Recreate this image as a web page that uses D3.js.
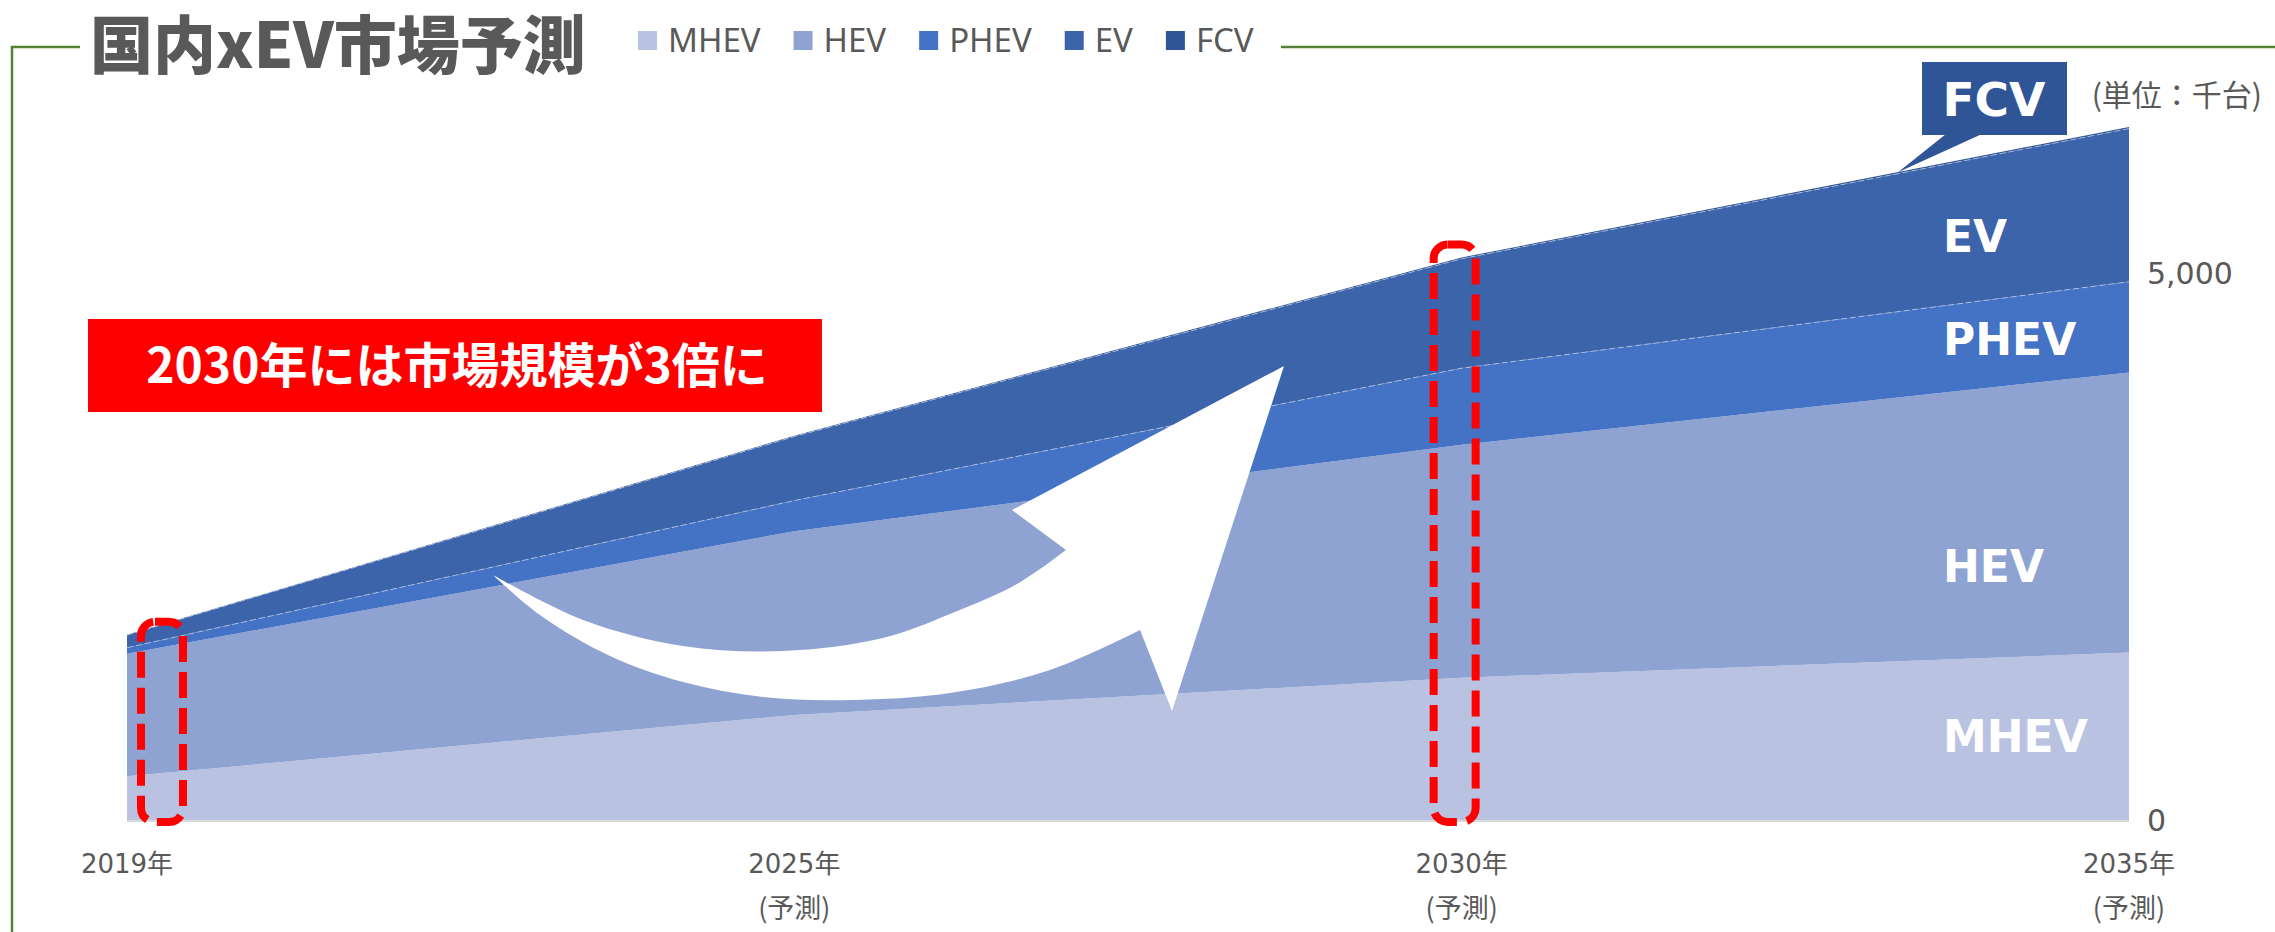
<!DOCTYPE html>
<html>
<head>
<meta charset="utf-8">
<script src="https://cdn.jsdelivr.net/npm/d3@7"></script>
<style>
  body { margin: 0; background: #fff; }
  svg { display: block; }
</style>
</head>
<body>
<div id="chart"></div>
<script>
// values in thousands of units
const years = ["2019", "2025", "2030", "2035"];
const yearLabels = ["2019年", "2025年", "2030年", "2035年"];
const yearNotes = ["", "(予測)", "(予測)", "(予測)"];
const seriesNames = ["MHEV", "HEV", "PHEV", "EV", "FCV"];
const mhev = [400, 960, 1300, 1530];
const hev = [1120, 1680, 2130, 2560];
const phev = [55, 280, 700, 830];
const ev = [115, 585, 1000, 1400];
const fcv = [3, 8, 12, 15];
const seriesColors = ["#B9C3E1", "#8FA3D3", "#4472C4", "#3C64AA", "#2F5597"];
const yTicks = [0, 5000];
const highlightYears = ["2019", "2030"];

const width = 2275;
const height = 932;
const textGrey = "#595959";

const svg = d3.select("#chart")
  .append("svg")
  .attr("width", width)
  .attr("height", height)
  .attr("viewBox", [0, 0, width, height]);

const x = d3.scalePoint().domain(years).range([127, 2129]);
const y = d3.scaleLinear().domain([0, 5000]).range([820, 273]);

const table = years.map((yr, i) => ({
  year: yr, MHEV: mhev[i], HEV: hev[i], PHEV: phev[i], EV: ev[i], FCV: fcv[i]
}));
const stacked = d3.stack().keys(seriesNames)(table);
const color = d3.scaleOrdinal(seriesNames, seriesColors);

// frame line
const green = "#548235";
svg.append("path")
  .attr("d", `M12,${height} L12,47 L80,47`)
  .attr("fill", "none").attr("stroke", green).attr("stroke-width", 2.5);
svg.append("line")
  .attr("x1", 1281).attr("x2", width).attr("y1", 47).attr("y2", 47)
  .attr("stroke", green).attr("stroke-width", 2.5);

// title
svg.append("text")
  .attr("x", 90).attr("y", 68)
  .attr("font-family", "'Noto Sans CJK JP', sans-serif")
  .attr("font-weight", 900).attr("font-size", 63)
  .attr("fill", textGrey)
  .text("国内xEV市場予測");

// legend
const legend = svg.append("g")
  .attr("font-family", "'Noto Sans', 'DejaVu Sans', sans-serif")
  .attr("font-size", 33).attr("fill", textGrey);
let lx = 638;
seriesNames.forEach(name => {
  legend.append("rect")
    .attr("x", lx).attr("y", 31).attr("width", 19).attr("height", 19)
    .attr("fill", color(name));
  const t = legend.append("text")
    .attr("x", lx + 30).attr("y", 52)
    .text(name);
  lx += 30 + t.node().getComputedTextLength() + 33;
});

// areas
const area = d3.area()
  .x(d => x(d.data.year))
  .y0(d => y(d[0]))
  .y1(d => y(d[1]));

svg.append("g")
  .selectAll("path")
  .data(stacked)
  .join("path")
    .attr("d", area)
    .attr("fill", d => color(d.key));

// faint seam lines at the EV layer edges
const seam = d3.line().x(d => x(d.data.year)).y(d => y(d[1]));
svg.append("g")
  .selectAll("path")
  .data(stacked.filter(s => s.key === "PHEV" || s.key === "EV"))
  .join("path")
    .attr("d", seam)
    .attr("fill", "none")
    .attr("stroke", "#c8d2ec").attr("stroke-opacity", 0.7)
    .attr("stroke-width", 1).attr("stroke-dasharray", "6,3");

// baseline
svg.append("line")
  .attr("x1", x(years[0])).attr("x2", x(years[years.length - 1]))
  .attr("y1", y(0) + 1).attr("y2", y(0) + 1)
  .attr("stroke", "#D9D9D9").attr("stroke-width", 2);

// x axis labels
const xAxis = svg.append("g")
  .attr("font-family", "'DejaVu Sans', 'Noto Sans CJK JP', sans-serif")
  .attr("font-size", 26).attr("fill", textGrey)
  .attr("text-anchor", "middle");
years.forEach((yr, i) => {
  xAxis.append("text").attr("x", x(yr)).attr("y", 873).text(yearLabels[i]);
  if (yearNotes[i]) {
    xAxis.append("text").attr("x", x(yr)).attr("y", 918)
      .attr("font-family", "'Noto Sans CJK JP', sans-serif")
      .attr("font-size", 27)
      .text(yearNotes[i]);
  }
});

// y axis labels (right)
svg.append("g")
  .attr("font-family", "'DejaVu Sans', sans-serif")
  .attr("font-size", 30).attr("fill", textGrey)
  .attr("text-anchor", "start")
  .selectAll("text")
  .data(yTicks)
  .join("text")
    .attr("x", x(years[years.length - 1]) + 18)
    .attr("y", d => y(d))
    .attr("dy", "0.36em")
    .text(d => d3.format(",")(d));

svg.append("text")
  .attr("x", 2262).attr("y", 106)
  .attr("text-anchor", "end")
  .attr("font-family", "'Noto Sans CJK JP', sans-serif")
  .attr("font-size", 30).attr("fill", textGrey)
  .text("(単位：千台)");

// series labels inside the chart, placed in the last year's band
const lastIdx = years.length - 1;
const labelFrac = { MHEV: 0.5, HEV: 0.31, PHEV: 0.37, EV: 0.3 };
const labelX = x(years[lastIdx]) - 186;
svg.append("g")
  .attr("font-family", "'DejaVu Sans', sans-serif")
  .attr("font-weight", "bold").attr("font-size", 44).attr("fill", "#fff")
  .selectAll("text")
  .data(stacked.filter(s => labelFrac[s.key] !== undefined))
  .join("text")
    .attr("x", labelX)
    .attr("y", d => {
      const b = d[lastIdx];
      return y(b[0] + (b[1] - b[0]) * labelFrac[d.key]);
    })
    .attr("dy", "0.36em")
    .text(d => d.key);

// FCV callout
const topPrev = stacked[4][lastIdx - 1][1];
const topLast = stacked[4][lastIdx][1];
const tipX = 1898;
const tt = (tipX - x(years[lastIdx - 1])) / (x(years[lastIdx]) - x(years[lastIdx - 1]));
const tipY = y(topPrev + (topLast - topPrev) * tt);
const fcvColor = color("FCV");
svg.append("path")
  .attr("d", `M1946,134 L1982,134 L${tipX},${tipY} Z`)
  .attr("fill", fcvColor);
svg.append("rect")
  .attr("x", 1922).attr("y", 62).attr("width", 145).attr("height", 73)
  .attr("fill", fcvColor);
svg.append("text")
  .attr("x", 1994).attr("y", 99).attr("dy", "0.36em")
  .attr("text-anchor", "middle")
  .attr("font-family", "'DejaVu Sans', sans-serif")
  .attr("font-weight", "bold").attr("font-size", 47).attr("fill", "#fff")
  .text("FCV");

// white sweeping arrow
const curve = d3.line().curve(d3.curveCatmullRom);
const upperEdge = [[493, 575], [583, 620], [683, 646], [783, 651], [883, 638], [950, 614], [1017, 584], [1066, 550]];
const lowerEdge = [[1140, 630], [1050, 670], [950, 693], [850, 700], [763, 697], [683, 682], [610, 656], [540, 615], [493, 575]];
const arrowPath = curve(upperEdge) +
  "L1012,510 L1284,366 L1172,711 L1140,630" +
  curve(lowerEdge).replace(/^M/, "L") + "Z";
svg.append("path")
  .attr("d", arrowPath)
  .attr("fill", "#fff");

// red call-out box
svg.append("rect")
  .attr("x", 88).attr("y", 319).attr("width", 734).attr("height", 93)
  .attr("fill", "#FF0000");
svg.append("text")
  .attr("x", 457).attr("y", 366).attr("dy", "0.36em")
  .attr("text-anchor", "middle")
  .attr("font-family", "'Noto Sans CJK JP', sans-serif")
  .attr("font-weight", "bold").attr("font-size", 48).attr("fill", "#fff")
  .text("2030年には市場規模が3倍に");

// red dashed highlight boxes
const boxOffset = { "2019": 35, "2030": -7 };
svg.append("g")
  .selectAll("rect")
  .data(highlightYears)
  .join("rect")
    .attr("x", d => x(d) + boxOffset[d] - 21)
    .attr("y", d => y(stacked[4][years.indexOf(d)][1]) - 13)
    .attr("width", 42)
    .attr("height", d => 822 - (y(stacked[4][years.indexOf(d)][1]) - 13))
    .attr("rx", 14)
    .attr("fill", "none")
    .attr("stroke", "#FF0000")
    .attr("stroke-width", 8)
    .attr("stroke-dasharray", "26,10");
</script>
</body>
</html>
